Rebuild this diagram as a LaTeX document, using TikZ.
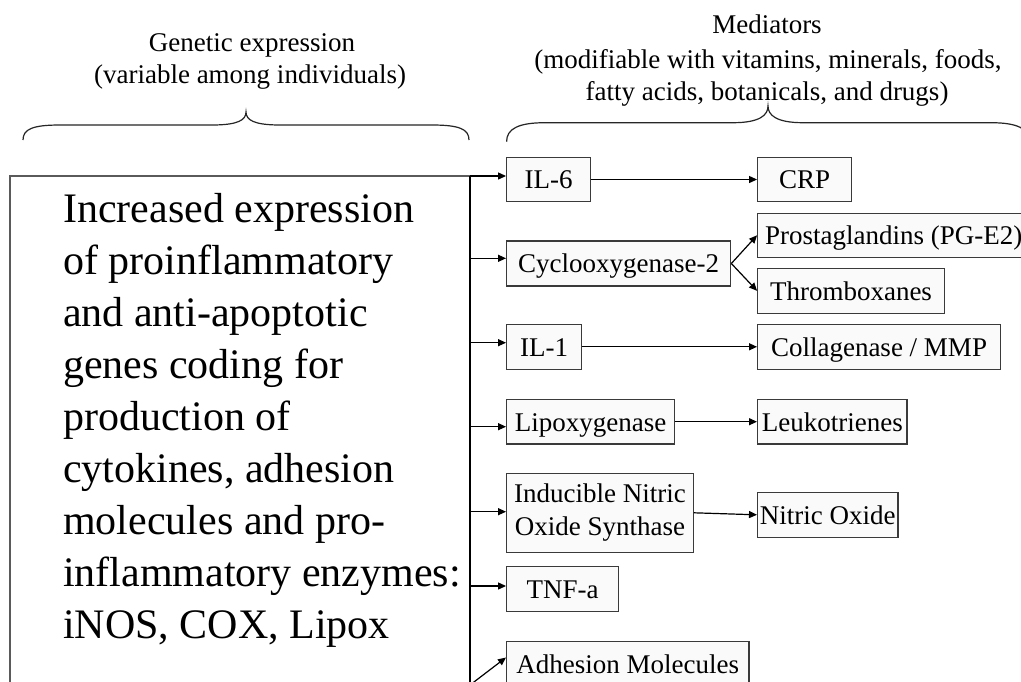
\documentclass[tikz,border=0pt]{standalone}
\usepackage{fontspec}
\setmainfont{Liberation Serif}
\usetikzlibrary{arrows.meta}
\definecolor{boxline}{HTML}{3A3A3A}
\definecolor{boxfill}{HTML}{FAFAFA}
\definecolor{bigline}{HTML}{5A5A5A}
\begin{document}
\begin{tikzpicture}[x=1pt,y=-1pt,
  box/.style={draw=boxline, fill=boxfill, line width=1.3pt, inner sep=0pt, anchor=center, align=center,
    font=\fontsize{27}{32.7}\selectfont},
  sl/.style={text height=24pt, text depth=5.4pt},
  arr/.style={-{Triangle[length=8pt,width=7pt]}, line width=1.2pt, draw=black},
  hdr/.style={font=\fontsize{27}{33}\selectfont, anchor=base, inner sep=0pt},
  brc/.style={line width=1.2pt, draw=black!85}
  ]
\clip (0,0) rectangle (1021,681);
\fill[white] (0,0) rectangle (1021,681);

% headers
\node[hdr] (h1) at (252,51.7) {Genetic expression};
\node[hdr] (h2) at (250,83.3) {(variable among individuals)};
\node[hdr] (h3) at (767,33.3) {Mediators};
\node[hdr] (h4) at (768,68.3) {(modifiable with vitamins, minerals, foods,};
\node[hdr] (h5) at (767,100) {fatty acids, botanicals, and drugs)};

% braces
\draw[brc] (23,140) .. controls (23,129) and (33,125) .. (60,125) -- (212,125)
  .. controls (238,125) and (246,120) .. (246,112)
  .. controls (246,120) and (254,125) .. (280,125) -- (432,125)
  .. controls (459,125) and (469,129) .. (469,140);
\draw[brc] (506.6,141.7) .. controls (506.6,129) and (518,122.7) .. (545,122.7) -- (733,122.7)
  .. controls (760,122.7) and (768,115) .. (768,106)
  .. controls (768,115) and (776,122.7) .. (803,122.7) -- (991,122.7)
  .. controls (1018,122.7) and (1029.4,129) .. (1029.4,141.7);

% big box
\draw[draw=bigline, line width=1.3pt] (10,720) -- (10,176) -- (470,176);
\node[anchor=north west, align=left, inner sep=0pt, font=\fontsize{42}{52}\selectfont] (gene) at (63,193)
 {Increased expression\\of proinflammatory\\and anti-apoptotic\\genes coding for\\production of\\cytokines, adhesion\\molecules and pro-\\inflammatory enzymes:\\iNOS, COX, Lipox};
\draw[line width=1.2pt] (470,176) -- (470,720);

% mediator boxes
\node[box, sl, minimum width=84pt, minimum height=44.4pt] (IL6) at (548.7,179.5) {IL-6};
\node[box, sl, minimum width=94pt, minimum height=44.4pt] (CRP) at (804.7,179.5) {CRP};
\node[box, sl, minimum width=224pt, minimum height=45pt] (COX) at (618.7,263.5) {Cyclooxygenase-2};
\node[box, sl, minimum width=272pt, minimum height=44pt] (PG) at (893.7,235.3) {Prostaglandins (PG-E2)};
\node[box, sl, minimum width=186.6pt, minimum height=45pt] (TX) at (851,290.8) {Thromboxanes};
\node[box, sl, minimum width=75pt, minimum height=45pt] (IL1) at (544.2,346.8) {IL-1};
\node[box, sl, minimum width=242.6pt, minimum height=45pt] (COL) at (879,346.8) {Collagenase / MMP};
\node[box, sl, minimum width=167.6pt, minimum height=44.7pt] (LOX) at (590.5,421.7) {Lipoxygenase};
\node[box, sl, minimum width=149.3pt, minimum height=44.7pt] (LT) at (832.3,421.7) {Leukotrienes};
\node[box, minimum width=186.6pt, minimum height=79pt] (NOS) at (600,512.8) {Inducible Nitric\\Oxide Synthase};
\node[box, sl, minimum width=140.3pt, minimum height=45pt] (NO) at (827.8,514.8) {Nitric Oxide};
\node[box, sl, minimum width=111.6pt, minimum height=45pt] (TNF) at (562.5,589.2) {TNF-a};
\node[box, sl, minimum width=242.3pt, minimum height=45pt] (ADH) at (627.8,664.2) {Adhesion Molecules};

% trunk points
\coordinate (t1) at (470,176);
\coordinate (t2) at (470,258.3);
\coordinate (t3) at (470,342.7);
\coordinate (t4) at (470,426.7);
\coordinate (t5) at (470,511.7);
\coordinate (t6) at (470,586);
\coordinate (t7) at (470,685);

\draw[arr] (t1) -- (t1 -| IL6.west);
\draw[arr] (t2) -- (t2 -| COX.west);
\draw[arr] (t3) -- (t3 -| IL1.west);
\draw[arr] (t4) -- (t4 -| LOX.west);
\draw[arr] (t5) -- (t5 -| NOS.west);
\draw[arr] (t6) -- (t6 -| TNF.west);
\draw[arr] (t7) -- ([yshift=6.7pt]ADH.west);

\draw[arr] (IL6.east) -- (CRP.west);
\draw[arr] (COX.east) -- (PG.west);
\draw[arr] (COX.east) -- (TX.west);
\draw[arr] (IL1.east) -- (COL.west);
\draw[arr] (LOX.east) -- (LT.west);
\draw[arr] (NOS.east) -- (NO.west);
\end{tikzpicture}
\end{document}
